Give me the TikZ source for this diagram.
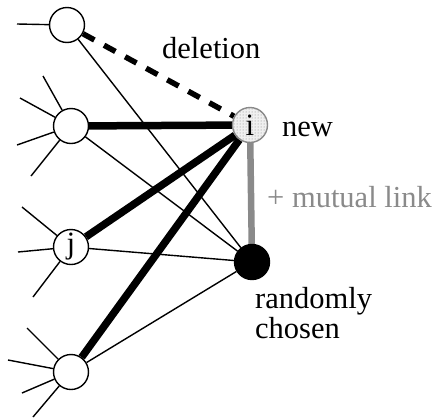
\documentclass[tikz,border=0pt]{standalone}
\usepackage{fontspec}
\setmainfont{Liberation Serif}
\usetikzlibrary{patterns}
\pgfdeclarelayer{background}
\pgfsetlayers{background,main}
\definecolor{linkgray}{HTML}{8A8A8A}
\begin{document}
\begin{tikzpicture}[x=1pt,y=-1pt,
  vertex/.style={circle,draw,line width=1.4pt,fill=white,minimum size=35pt,
    inner sep=0pt,font=\fontsize{31}{31}\selectfont},
  thinedge/.style={line width=1.4pt},
  thickedge/.style={line width=7.5pt},
  deledge/.style={line width=5.5pt,dash pattern=on 13pt off 11pt},
  mutualedge/.style={line width=6.5pt,draw=linkgray},
  lbl/.style={font=\fontsize{30.5}{30}\selectfont,anchor=base west,inner sep=0pt}]
\useasboundingbox (0,0) rectangle (441,418);

% vertices
\node[vertex] (a) at (67,25) {};
\node[vertex] (b) at (71,126) {};
\node[vertex] (j) at (71,247) {j};
\node[vertex] (d) at (71,372) {};
\node[vertex,draw=linkgray,fill=gray!12,
  postaction={pattern=dots,pattern color=gray}] (i) at (250,125) {i};
\node[vertex,fill=black] (r) at (252,262) {};

% loose ends of the remaining links
\coordinate (a1) at (17,24);
\coordinate (b1) at (43,76);
\coordinate (b2) at (20,98);
\coordinate (b3) at (17,145);
\coordinate (b4) at (31,176);
\coordinate (j1) at (22,207);
\coordinate (j2) at (18,252);
\coordinate (j3) at (33,297);
\coordinate (d1) at (27,328);
\coordinate (d2) at (8,360);
\coordinate (d3) at (22,393);
\coordinate (d4) at (33,417);

\begin{pgfonlayer}{background}
  \foreach \v/\e in {a/a1,b/b1,b/b2,b/b3,b/b4,j/j1,j/j2,j/j3,d/d1,d/d2,d/d3,d/d4}
    \draw[thinedge] (\v) -- (\e);
  \foreach \v in {a,b,j,d}
    \draw[thinedge] (\v) -- (r);
  \foreach \v in {b,j,d}
    \draw[thickedge] (\v) -- (i);
  \draw[deledge] (a) -- (i);
  \draw[mutualedge] (i) -- (r);
\end{pgfonlayer}

% labels
\node[lbl] (tdel) at (162,58) {deletion};
\node[lbl] (tnew) at (282,136) {new};
\node[lbl,text=linkgray] (tmut) at (267,207) {+ mutual link};
\node[lbl] (trand) at (255,308) {randomly};
\node[lbl] (tcho) at (255,338) {chosen};
\end{tikzpicture}
\end{document}
